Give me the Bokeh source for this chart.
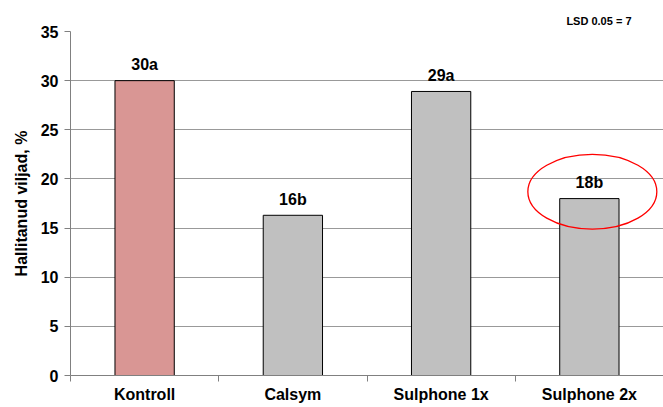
import numpy as np
from bokeh.plotting import figure
from bokeh.models import Range1d, FixedTicker, Title, ColumnDataSource
from bokeh.core.properties import value
from bokeh.embed import file_html
from bokeh.resources import INLINE

categories = ["Kontroll", "Calsym", "Sulphone 1x", "Sulphone 2x"]
values = [30.0, 16.3, 28.9, 18.0]
labels = ["30a", "16b", "29a", "18b"]
colors = ["#D99694", "#C0C0C0", "#C0C0C0", "#C0C0C0"]
y_ticks = [0, 5, 10, 15, 20, 25, 30, 35]
lsd_text = "LSD 0.05 = 7"
highlight = "Sulphone 2x"

FONT = "Liberation Sans"
FS = "16px"

xs = np.arange(len(categories)) + 0.5
src = ColumnDataSource(dict(x=xs, top=values, label=labels, color=colors))

p = figure(width=663, height=407, output_backend="svg", toolbar_location=None,
           x_range=Range1d(0, len(categories)), y_range=Range1d(0, 35),
           min_border_left=70, min_border_right=0, min_border_top=31, min_border_bottom=32)
p.outline_line_color = None
p.background_fill_color = "white"
p.border_fill_color = "white"

p.add_layout(Title(text=lsd_text, align="right", offset=32, standoff=10,
                   text_font=FONT, text_font_size="11px", text_font_style="bold",
                   text_color="black"), "above")

p.vbar(x="x", top="top", width=0.4, bottom=0, fill_color="color",
       line_color="black", line_width=1, source=src)

p.text(x="x", y="top", text="label", source=src, text_align="center",
       text_baseline="alphabetic", y_offset=-16, text_font=value(FONT),
       text_font_size=FS, text_font_style="bold", text_color="black")

# highlight ellipse around the Sulphone 2x label
hi = categories.index(highlight)
p.ellipse(x=[xs[hi] + 0.02], y=[values[hi] + 0.7], width=0.87, height=7.6,
          fill_color=None, line_color="#FF0000", line_width=1.3)

# x axis: labels at centres, ticks at category boundaries
p.xaxis.ticker = FixedTicker(ticks=list(xs), minor_ticks=list(np.arange(len(categories) + 1)))
p.xaxis.major_label_overrides = {float(x): c for x, c in zip(xs, categories)}
p.xaxis.major_tick_out = 0
p.xaxis.major_tick_in = 0
p.xaxis.minor_tick_out = 6
p.xaxis.minor_tick_in = 0
p.xaxis.minor_tick_line_color = "#808080"
p.xaxis.axis_line_color = "#808080"
p.xaxis.major_label_standoff = 4
p.xaxis.major_label_text_font = FONT
p.xaxis.major_label_text_font_size = FS
p.xaxis.major_label_text_font_style = "bold"
p.xaxis.major_label_text_color = "black"
p.xgrid.grid_line_color = None

p.yaxis.ticker = FixedTicker(ticks=y_ticks)
p.yaxis.major_tick_out = 6
p.yaxis.major_tick_in = 0
p.yaxis.minor_tick_line_color = None
p.yaxis.axis_line_color = "#808080"
p.yaxis.major_tick_line_color = "#808080"
p.yaxis.major_label_standoff = 6
p.yaxis.major_label_text_font = FONT
p.yaxis.major_label_text_font_size = FS
p.yaxis.major_label_text_font_style = "bold"
p.yaxis.major_label_text_color = "black"
p.yaxis.axis_label = "Hallitanud viljad, %"
p.yaxis.axis_label_text_font = FONT
p.yaxis.axis_label_text_font_size = FS
p.yaxis.axis_label_text_font_style = "bold"
p.yaxis.axis_label_text_color = "black"
p.yaxis.axis_label_standoff = 8
p.ygrid.grid_line_color = "#999999"
p.ygrid.grid_line_width = 1

open("out.html", "w").write(file_html(p, INLINE))
